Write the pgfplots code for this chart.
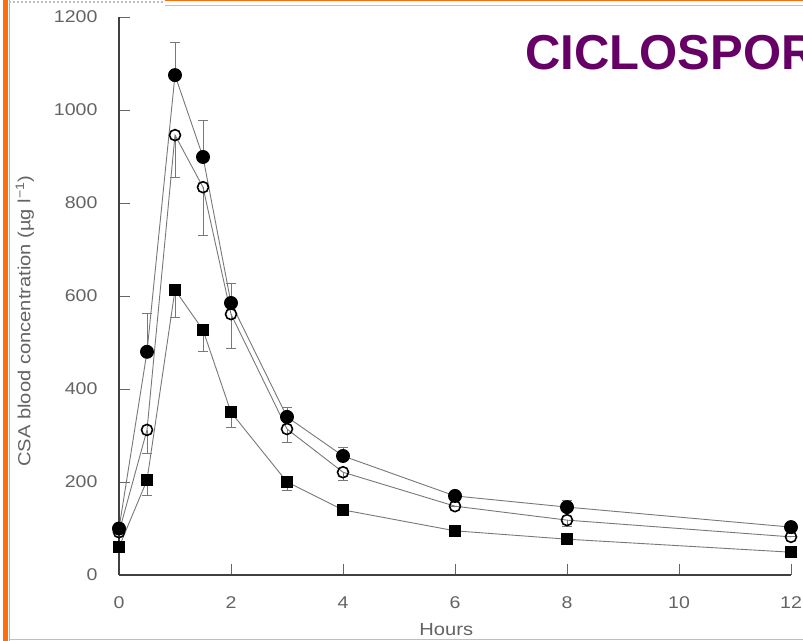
\documentclass[border=0pt]{standalone}
\usepackage{fontspec}
\setmainfont{Liberation Sans}
\newfontfamily\widefont[FakeStretch=1.15]{Liberation Sans}
\usepackage{pgfplots}
\pgfplotsset{compat=1.18}
\usepackage{pgfplotstable}
\definecolor{titlepurple}{RGB}{102,0,102}
\definecolor{borderorange}{RGB}{255,110,10}
\definecolor{tickgray}{RGB}{100,100,100}
\definecolor{linegray}{RGB}{120,120,120}

\pgfplotstableread{
x y ep
0 100 0
0.5 480 83
1 1075 71
1.5 899 79
2 585 43
3 340 20
4 256 19
6 170 8
8 146 14
12 103 0
}\filled
\pgfplotstableread{
x y em
0 92 0
0.5 312 50
1 946 92
1.5 834 103
2 561 73
3 314 30
4 221 18
6 148 0
8 118 13
12 82 0
}\open
\pgfplotstableread{
x y em
0 60 0
0.5 204 34
1 613 60
1.5 527 47
2 350 32
3 200 18
4 140 0
6 95 0
8 77 0
12 49 0
}\squares

\begin{document}
\begin{tikzpicture}
\useasboundingbox (0,0) rectangle (803bp,641bp);
\clip (0,0) rectangle (803bp,641bp);
\fill[white] (0,0) rectangle (803bp,641bp);
% frame
\fill[borderorange] (3bp,0) rectangle (8bp,641bp);
\draw[gray!60, line width=1bp] (9.5bp,0) -- (9.5bp,641bp);
\fill[borderorange] (165bp,639.5bp) rectangle (803bp,641bp);
\draw[gray!50, line width=1.5bp, dash pattern=on 2bp off 2bp] (9bp,639bp) -- (165bp,639bp);
\draw[gray!50, line width=1.5bp] (165bp,635.5bp) -- (803bp,635.5bp);
\draw[gray!50, line width=1bp] (9bp,1.5bp) -- (803bp,1.5bp);

\node[anchor=base west, font=\fontsize{49bp}{55bp}\selectfont\bfseries, text=titlepurple, inner sep=0pt] at (525bp,571bp) {CICLOSPORIN};

\begin{axis}[
  at={(119bp,66bp)}, anchor=south west,
  scale only axis, width=672bp, height=558bp,
  xmin=0, xmax=12, ymin=0, ymax=1200,
  axis lines=left,
  axis line style={-, draw=black!75, line width=1.2bp},
  tick align=inside,
  major tick length=11bp,
  tick style={draw=black!60, line width=0.9bp},
  xtick={0,2,4,6,8,10,12},
  ytick={0,200,400,600,800,1000,1200},
  /pgf/number format/assume math mode=true,
  /pgf/number format/1000 sep={},
  ticklabel style={font=\widefont\fontsize{17bp}{19bp}\selectfont, text=tickgray},
  xticklabel style={yshift=-18bp},
  yticklabel style={xshift=-18bp},
  xlabel={Hours},
  ylabel={CSA blood concentration (µg l\textsuperscript{−1})},
  every axis x label/.style={at={(rel axis cs:0.487,-0.097)}, anchor=center, font=\widefont\fontsize{17.5bp}{19bp}\selectfont, text=tickgray},
  every axis y label/.style={at={(rel axis cs:-0.140,0.455)}, rotate=90, anchor=center, font=\widefont\fontsize{17.5bp}{19bp}\selectfont, text=tickgray},
  clip=false,
  error bars/error mark=|,
  error bars/error bar style={draw=linegray, line width=0.9bp},
  error bars/error mark options={draw=linegray, mark size=5bp, line width=0.9bp},
]
\addplot[draw=linegray, line width=0.9bp, mark=*, mark size=6.5bp, mark options={fill=black, draw=black},
  error bars/.cd, y dir=plus, y explicit]
  table[x=x, y=y, y error plus=ep] {\filled};
\addplot[draw=linegray, line width=0.9bp, mark=o, mark size=5.5bp, mark options={draw=black, line width=1.6bp, fill=white},
  error bars/.cd, y dir=minus, y explicit]
  table[x=x, y=y, y error minus=em] {\open};
\addplot[draw=linegray, line width=0.9bp, mark=square*, mark size=5.5bp, mark options={fill=black, draw=black},
  error bars/.cd, y dir=minus, y explicit]
  table[x=x, y=y, y error minus=em] {\squares};
\end{axis}
\end{tikzpicture}
\end{document}
